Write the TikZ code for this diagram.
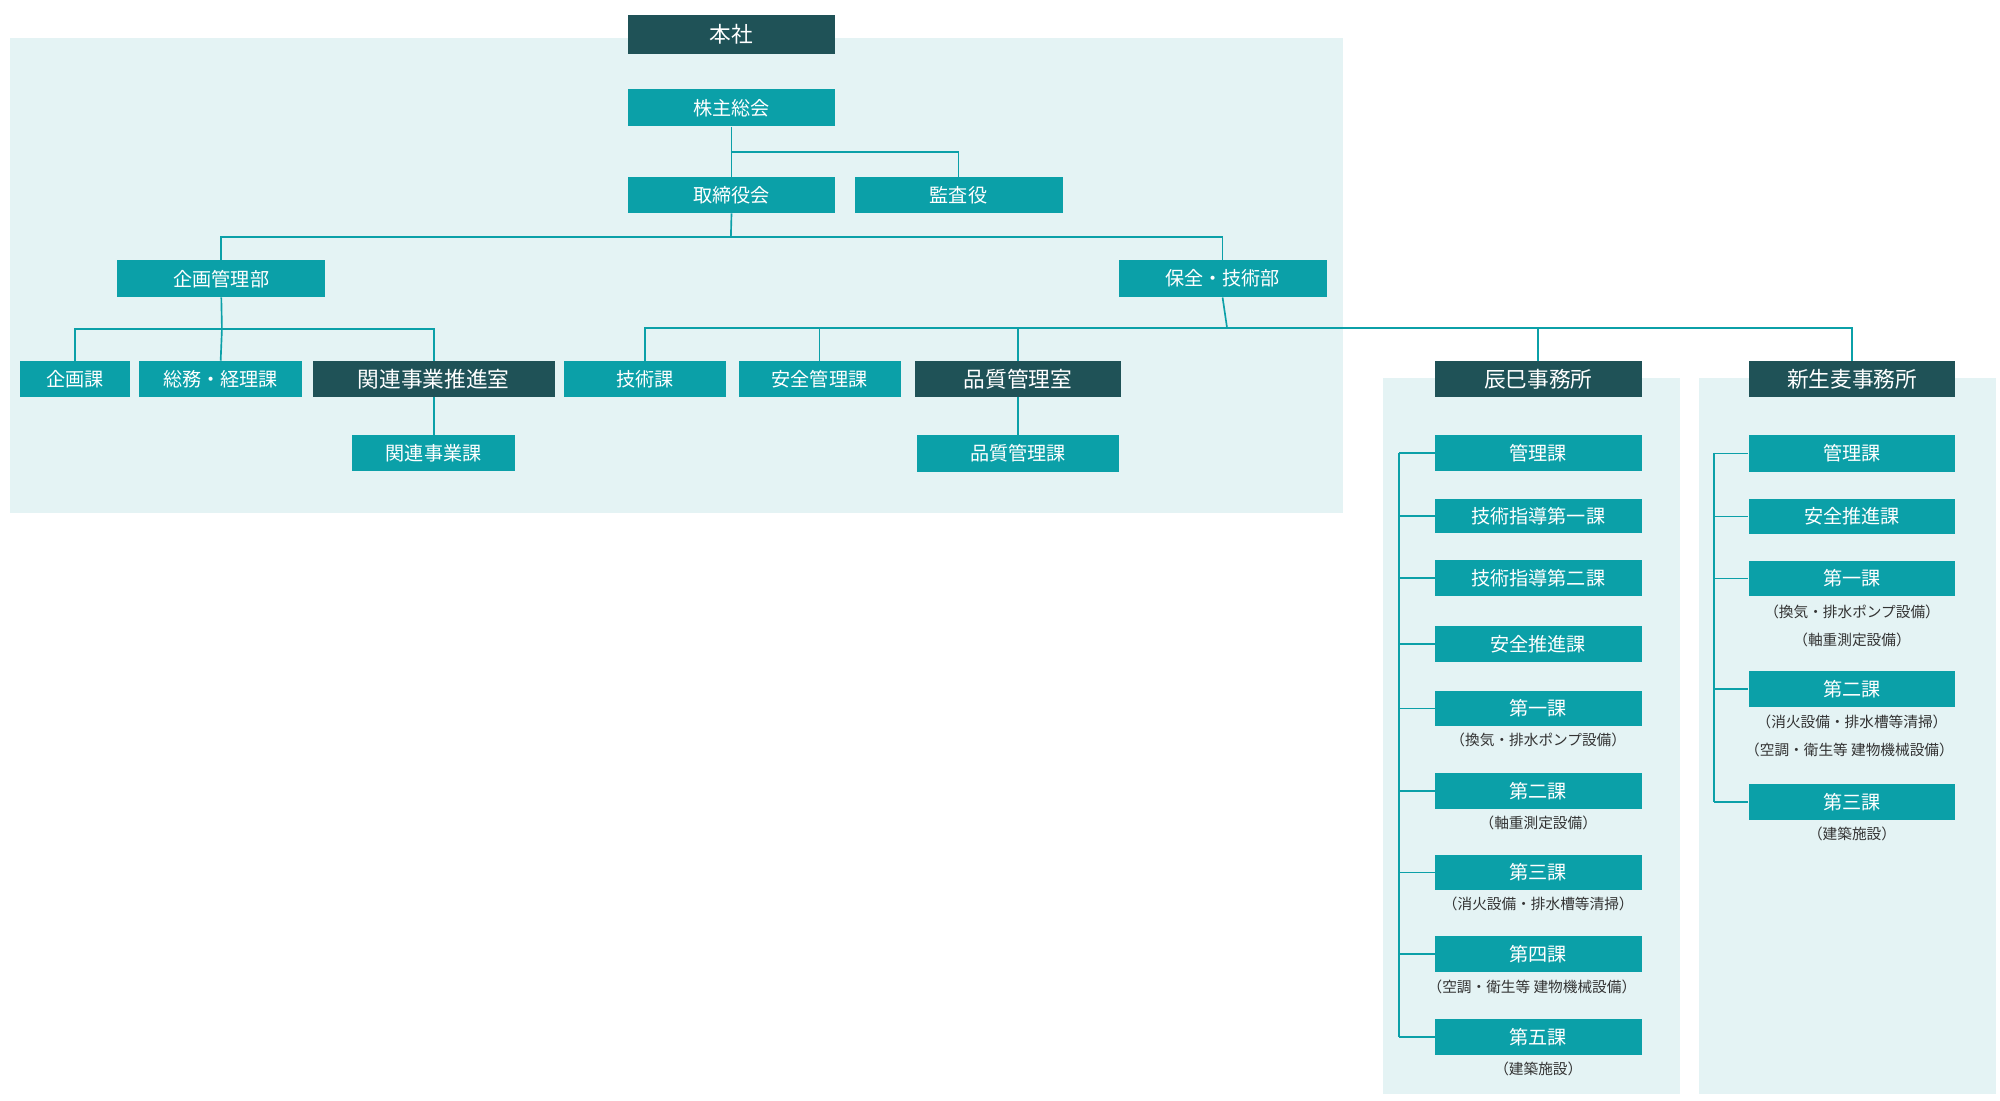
\documentclass[tikz,border=0pt]{standalone}
\usepackage{fontspec}
\setmainfont{Noto Sans CJK JP}
\definecolor{dk}{HTML}{1F5257}
\definecolor{tl}{HTML}{0BA0A8}
\definecolor{bg}{HTML}{E4F3F4}
\definecolor{tx}{HTML}{333333}
\tikzset{
 tb/.style={fill=tl,text=white,inner sep=0pt,font=\fontsize{15}{18}\selectfont},
 db/.style={fill=dk,text=white,inner sep=0pt,font=\fontsize{17}{20}\selectfont},
 ln/.style={draw=tl,line width=1.3pt},
 sub/.style={text=tx,inner sep=0pt,font=\fontsize{11.5}{14}\selectfont}
}
\newcommand\bx[7]{\node[#6,minimum width={(#4-#2)*1pt},minimum height={(#5-#3)*1pt}] (#1) at ({(#2+#4)/2},{(#3+#5)/2}) {#7};}
\begin{document}
\begin{tikzpicture}[x=1pt,y=-1pt]
\useasboundingbox (0,0) rectangle (1568,863);
\fill[bg] (8,30) rectangle (1053,402);
\fill[bg] (1084,296) rectangle (1317,858);
\fill[bg] (1332,296) rectangle (1565,858);
% connectors first
\coordinate (j1) at (573,119);
\coordinate (j2) at (573,186);
\coordinate (j3) at (174,258);
\coordinate (j4) at (962,257);
\bx{honsha}{492}{12}{655}{42}{db}{本社}
\bx{kabu}{492}{70}{655}{99}{tb}{株主総会}
\bx{tori}{492}{139}{655}{167}{tb}{取締役会}
\bx{kansa}{670}{139}{833}{167}{tb}{監査役}
\bx{kikaku}{92}{204}{255}{233}{tb}{企画管理部}
\bx{hozen}{877}{204}{1040}{233}{tb}{保全・技術部}
\bx{kk}{16}{283}{102}{311}{tb}{企画課}
\bx{soumu}{109}{283}{237}{311}{tb}{総務・経理課}
\bx{kanren}{245}{283}{435}{311}{db}{関連事業推進室}
\bx{kanrenka}{276}{341}{404}{369}{tb}{関連事業課}
\bx{gijutsu}{442}{283}{569}{311}{tb}{技術課}
\bx{anzen}{579}{283}{706}{311}{tb}{安全管理課}
\bx{hinshitsu}{717}{283}{879}{311}{db}{品質管理室}
\bx{hinka}{719}{341}{877}{370}{tb}{品質管理課}
\bx{tatsumi}{1125}{283}{1287}{311}{db}{辰巳事務所}
\bx{shin}{1371}{283}{1533}{311}{db}{新生麦事務所}
\draw[ln] (kabu.south) -- (tori.north);
\draw[ln] (j1) -| (kansa.north);
\draw[ln] (tori.south) -- (j2);
\draw[ln] (j2) -| (kikaku.north);
\draw[ln] (j2) -| (hozen.north);
\draw[ln] (kikaku.south) -- (j3);
\draw[ln] (j3) -| (kk.north);
\draw[ln] (j3) -- (soumu.north);
\draw[ln] (j3) -| (kanren.north);
\draw[ln] (kanren.south) -- (kanrenka.north);
\draw[ln] (hozen.south) -- (j4);
\draw[ln] (j4) -| (gijutsu.north);
\draw[ln] (j4) -| (anzen.north);
\draw[ln] (j4) -| (hinshitsu.north);
\draw[ln] (j4) -| (tatsumi.north);
\draw[ln] (j4) -| (shin.north);
\draw[ln] (hinshitsu.south) -- (hinka.north);
% Tatsumi
\bx{t1}{1125}{341}{1287}{369}{tb}{管理課}
\bx{t2}{1125}{391}{1287}{418}{tb}{技術指導第一課}
\bx{t3}{1125}{439}{1287}{467}{tb}{技術指導第二課}
\bx{t4}{1125}{491}{1287}{519}{tb}{安全推進課}
\bx{t5}{1125}{542}{1287}{569}{tb}{第一課}
\bx{t6}{1125}{606}{1287}{634}{tb}{第二課}
\bx{t7}{1125}{670}{1287}{698}{tb}{第三課}
\bx{t8}{1125}{734}{1287}{762}{tb}{第四課}
\bx{t9}{1125}{799}{1287}{827}{tb}{第五課}
\node[sub] (ts5) at (1206,580) {（換気・排水ポンプ設備）};
\node[sub] (ts6) at (1206,645) {（軸重測定設備）};
\node[sub] (ts7) at (1206,709) {（消火設備・排水槽等清掃）};
\node[sub] (ts8) at (1201,774) {（空調・衛生等 建物機械設備）};
\node[sub] (ts9) at (1206,838) {（建築施設）};
\coordinate (tt) at (1097,355);
\coordinate (tb) at (1097,813);
\draw[ln] (tt) -- (tb);
\foreach \n in {t1,t2,t3,t4,t5,t6,t7,t8,t9} \draw[ln] (tt |- \n.west) -- (\n.west);
% Shinseimugi
\bx{s1}{1371}{341}{1533}{370}{tb}{管理課}
\bx{s2}{1371}{391}{1533}{419}{tb}{安全推進課}
\bx{s3}{1371}{440}{1533}{467}{tb}{第一課}
\bx{s4}{1371}{526}{1533}{554}{tb}{第二課}
\bx{s5}{1371}{615}{1533}{643}{tb}{第三課}
\node[sub] (ss3a) at (1452,480) {（換気・排水ポンプ設備）};
\node[sub] (ss3b) at (1452,502) {（軸重測定設備）};
\node[sub] (ss4a) at (1452,566) {（消火設備・排水槽等清掃）};
\node[sub] (ss4b) at (1450,588) {（空調・衛生等 建物機械設備）};
\node[sub] (ss5) at (1452,654) {（建築施設）};
\coordinate (st) at (1344,355);
\coordinate (sb) at (1344,629);
\draw[ln] (st) -- (sb);
\foreach \n in {s1,s2,s3,s4,s5} \draw[ln] (st |- \n.west) -- (\n.west);
\end{tikzpicture}
\end{document}
